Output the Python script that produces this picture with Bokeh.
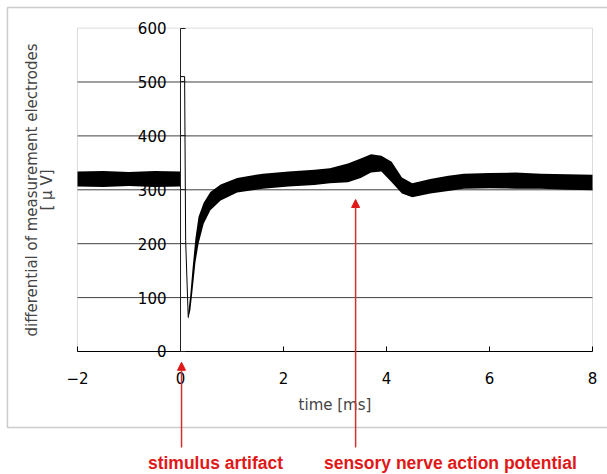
from bokeh.plotting import figure
from bokeh.models import Range1d, LinearAxis, FixedTicker, Arrow, NormalHead, Label, BoxAnnotation
from bokeh.embed import file_html
from bokeh.resources import INLINE

# ---- data ----
x_ticks = [-2, 0, 2, 4, 6, 8]
y_ticks = [0, 100, 200, 300, 400, 500, 600]
x_tick_labels = {-2: "\u22122", 0: "0", 2: "2", 4: "4", 6: "6", 8: "8"}

# noise band before the stimulus
pre_t = [-2.0, -1.5, -1.0, -0.5, 0.0]
pre_upper = [334, 335, 333, 335, 334]
pre_lower = [306, 305, 307, 305, 306]

# stimulus artifact (thin trace)
spike_t = [0.0, 0.0, 0.08, 0.10, 0.15]
spike_v = [318, 510, 510, 206, 63]

# noise band after the stimulus (recovery + SNAP)
post_t = [0.15, 0.19, 0.23, 0.29, 0.35, 0.45, 0.58, 0.78, 1.1, 1.6, 2.1, 2.6, 2.9,
          3.25, 3.5, 3.7, 3.9, 4.1, 4.3, 4.5, 4.85, 5.2, 5.5, 6.0, 6.5, 7.0, 7.5, 8.0]
post_upper = [72, 105, 150, 210, 250, 276, 296, 310, 322, 330, 334, 337, 340,
              349, 358, 366, 363, 352, 323, 312, 320, 326, 330, 331, 332, 330, 329, 328]
post_lower = [60, 76, 110, 165, 200, 237, 262, 280, 295, 302, 306, 309, 312,
              314, 322, 332, 334, 314, 293, 286, 293, 298, 302, 303, 302, 302, 300, 299]

x_min, x_max = x_ticks[0], x_ticks[-1]
y_min, y_max = y_ticks[0], y_ticks[-1]

RED = "#e01818"
FONT = "DejaVu Sans"

# the frame covers the whole canvas; the chart box sits inside it
p = figure(width=607, height=474, min_border=0,
           x_range=Range1d(-3.495, 8.291), y_range=Range1d(-228.2, 651.2),
           x_axis_location=None, y_axis_location=None,
           output_backend="svg", toolbar_location=None,
           background_fill_color="white", border_fill_color="white")
p.outline_line_color = None
p.grid.visible = False

# outer picture frame
p.add_layout(BoxAnnotation(left=-3.36, right=8.8, bottom=-141, top=638,
                           fill_alpha=0, line_color="#555555", line_width=1.5,
                           level="underlay"))
# chart box
p.add_layout(BoxAnnotation(left=x_min, right=x_max, bottom=y_min, top=y_max,
                           fill_alpha=0, line_color="#8c8c8c", line_width=1,
                           level="underlay"))
# horizontal grid lines
p.segment(x0=x_min, x1=x_max, y0=y_ticks[1:-1], y1=y_ticks[1:-1],
          line_color="#404040", line_width=1, level="underlay")

# x axis at y = 0
xa = LinearAxis(fixed_location=0, bounds=(x_min, x_max), ticker=FixedTicker(ticks=x_ticks))
xa.major_label_overrides = x_tick_labels
xa.axis_line_color = "black"
xa.major_tick_in = 5
xa.major_tick_out = 0
xa.minor_tick_line_color = None
xa.major_label_standoff = 21
xa.major_label_text_font = FONT
xa.major_label_text_font_size = "15px"
xa.major_label_text_color = "black"
xa.axis_label = "time [ms]"
xa.axis_label_text_font = FONT
xa.axis_label_text_font_size = "15px"
xa.axis_label_text_font_style = "normal"
xa.axis_label_standoff = 8
p.add_layout(xa, "below")

# y axis at x = 0
y0 = LinearAxis(fixed_location=0, bounds=(y_min, y_max), ticker=FixedTicker(ticks=y_ticks))
y0.axis_line_color = "#202020"
y0.major_tick_in = 5
y0.major_tick_out = 0
y0.major_tick_line_color = "#202020"
y0.minor_tick_line_color = None
y0.major_label_standoff = 14
y0.major_label_text_font = FONT
y0.major_label_text_font_size = "15px"
y0.major_label_text_color = "black"
p.add_layout(y0, "left")

# title axis along the left edge of the chart box
yl = LinearAxis(fixed_location=x_min, bounds=(y_min, y_max), ticker=FixedTicker(ticks=[]))
yl.axis_line_color = None
yl.major_tick_in = 0
yl.major_tick_out = 0
yl.minor_tick_line_color = None
yl.major_label_standoff = 0
yl.axis_label = "differential of measurement electrodes\n[ \u03bc V]"
yl.axis_label_text_font = FONT
yl.axis_label_text_font_size = "15px"
yl.axis_label_text_font_style = "normal"
yl.axis_label_text_line_height = 0.8
yl.axis_label_standoff = 22
p.add_layout(yl, "left")

# signal
p.varea(x=pre_t, y1=pre_lower, y2=pre_upper, fill_color="black")
p.varea(x=post_t, y1=post_lower, y2=post_upper, fill_color="black")
p.line(x=spike_t, y=spike_v, line_color="black", line_width=1)

# annotations
p.add_layout(Arrow(x_start=0.02, y_start=-178, x_end=0.02, y_end=-20,
                   line_color="#d03030", line_width=1.5,
                   end=NormalHead(size=8, fill_color=RED, line_color=RED)))
p.add_layout(Arrow(x_start=3.40, y_start=-178, x_end=3.40, y_end=282,
                   line_color="#d03030", line_width=1.5,
                   end=NormalHead(size=8, fill_color=RED, line_color=RED)))
p.add_layout(Label(x=0.68, y=-206, text="stimulus artifact", text_align="center",
                   text_baseline="middle", text_color=RED, text_font="Liberation Sans",
                   text_font_style="bold", text_font_size="17.5px"))
p.add_layout(Label(x=5.24, y=-206, text="sensory nerve action potential", text_align="center",
                   text_baseline="middle", text_color=RED, text_font="Liberation Sans",
                   text_font_style="bold", text_font_size="17.5px"))

open("out.html", "w").write(file_html(p, INLINE))
